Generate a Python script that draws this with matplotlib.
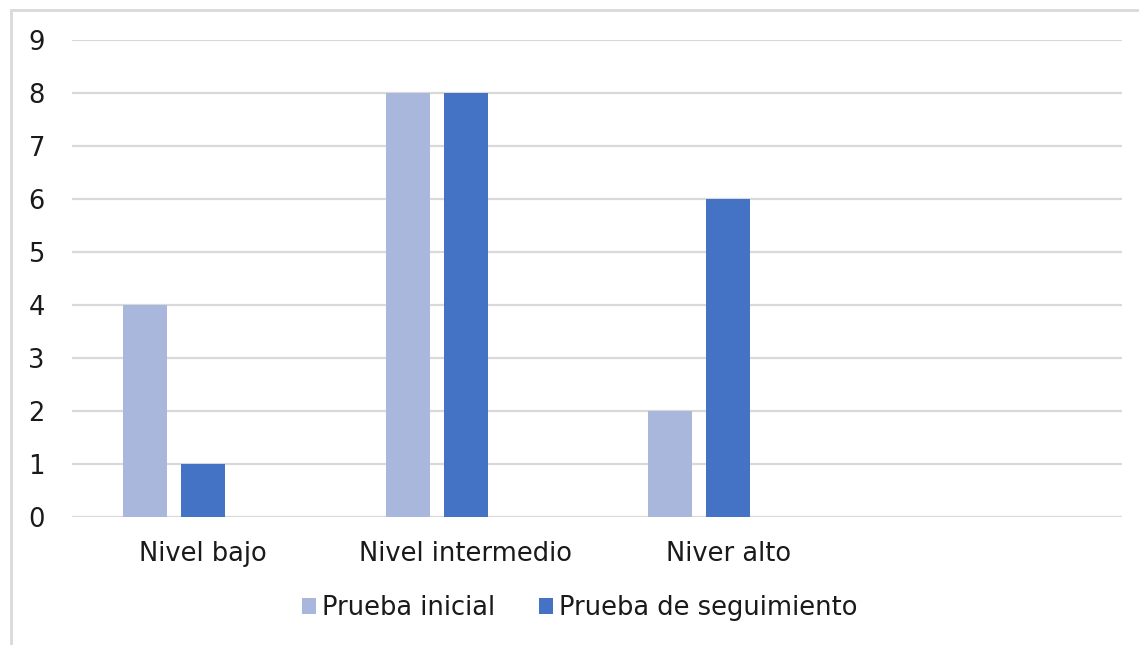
import matplotlib.pyplot as plt
import numpy as np
from matplotlib.patches import Rectangle

categories = ["Nivel bajo", "Nivel intermedio", "Niver alto", ""]
inicial = [4, 8, 2, 0]
seguimiento = [1, 8, 6, 0]
series_names = ["Prueba inicial", "Prueba de seguimiento"]
yticks = list(range(0, 10))

light = "#A9B7DC"
dark = "#4472C4"
grid_col = "#D9D9D9"
txt = "#1a1a1a"

plt.rcParams['font.family'] = ['DejaVu Sans']

fig = plt.figure(figsize=(11.39, 6.45), dpi=100)
ax = fig.add_axes([0.0632, 0.1984, 0.9218, 0.7396])

x = np.arange(len(categories))
w = 0.168
step = 0.221
ax.bar(x - step, inicial, w, color=light, label=series_names[0], zorder=3)
ax.bar(x, seguimiento, w, color=dark, label=series_names[1], zorder=3)

ax.set_xlim(-0.5, len(categories) - 0.5)
ax.set_ylim(0, 9)
ax.set_yticks(yticks)
ax.set_xticks(x)
ax.set_xticklabels(categories)
ax.tick_params(axis='y', length=0, pad=19.5, labelsize=18.5, colors=txt)
ax.tick_params(axis='x', length=0, pad=17, labelsize=18.5, colors=txt)
ax.yaxis.grid(True, color=grid_col, linewidth=1.6, zorder=0)
for s in ax.spines.values():
    s.set_visible(False)

leg = fig.legend(loc='center', bbox_to_anchor=(0.509, 0.057), ncol=2, frameon=False,
                 fontsize=18.5, handlelength=0.55, handleheight=0.55, handletextpad=0.25,
                 columnspacing=1.7)
for t in leg.get_texts():
    t.set_color(txt)

# outer chart border
fig.patches.append(Rectangle((11 / 1139, -0.1), 1.2, 1.1 - 10 / 645, transform=fig.transFigure,
                             fill=False, edgecolor='#D9D9D9', linewidth=2))

fig.savefig("out.png", dpi=100)
